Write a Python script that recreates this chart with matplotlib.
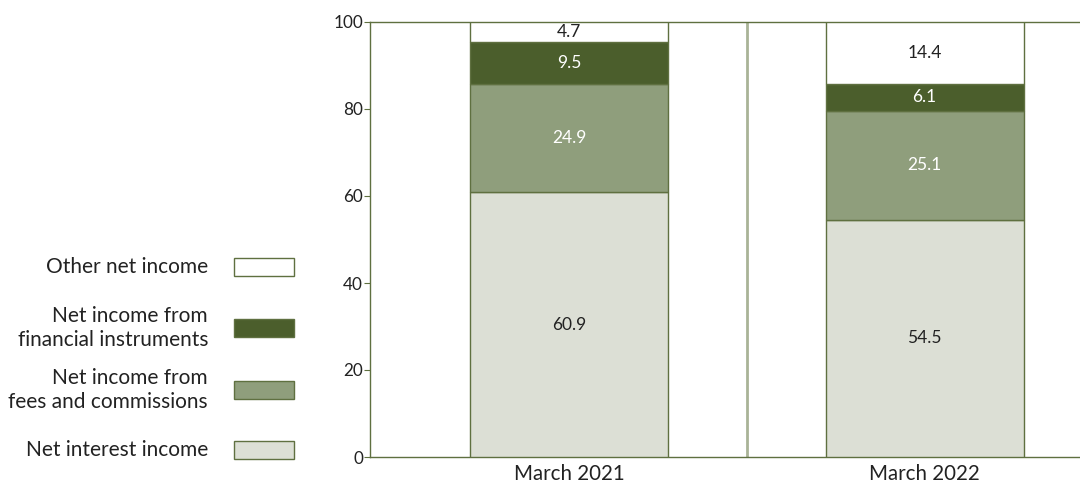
import matplotlib
matplotlib.use("Agg")
import matplotlib.pyplot as plt
from matplotlib.patches import Rectangle

plt.rcParams['font.family'] = ['Lato', 'DejaVu Sans']

periods = ["March 2021", "March 2022"]
series_names = ["Net interest income", "Net income from\nfees and commissions",
                "Net income from\nfinancial instruments", "Other net income"]
net_interest = [60.9, 54.5]
fees_commissions = [24.9, 25.1]
financial_instruments = [9.5, 6.1]
other_income = [4.7, 14.4]
y_ticks = [0, 20, 40, 60, 80, 100]

series = [net_interest, fees_commissions, financial_instruments, other_income]
fills = ["#dcdfd5", "#8f9e7c", "#4b5e2c", "#ffffff"]
text_colors = ["#222222", "#ffffff", "#ffffff", "#222222"]
edge = "#5f7040"

fig = plt.figure(figsize=(10.8, 4.88), dpi=100)
ax = fig.add_axes([370 / 1080, 1 - 457 / 488, 710 / 1080, 435 / 488])

x = list(range(len(periods)))
width = 0.557
bottoms = [0.0] * len(periods)
for vals, fc, tc in zip(series, fills, text_colors):
    ax.bar(x, vals, width=width, bottom=bottoms, color=fc, edgecolor=edge,
           linewidth=1.0, zorder=3)
    for xi, v, b in zip(x, vals, bottoms):
        ax.text(xi, b + v / 2, f"{v:.1f}", ha="center", va="center",
                color=tc, fontsize=12.5, zorder=4)
    bottoms = [b + v for b, v in zip(bottoms, vals)]

ax.set_xlim(-0.56, 1.437)
ax.set_ylim(0, 100)
ax.axvline(0.5, color="#a9b397", linewidth=2.0, zorder=1)

for side in ["left", "bottom", "top"]:
    ax.spines[side].set_color(edge)
    ax.spines[side].set_linewidth(1.0)
ax.spines["right"].set_visible(False)

ax.set_yticks(y_ticks)
ax.set_yticklabels([str(t) for t in y_ticks], fontsize=12.3, color="#222222")
ax.tick_params(axis="y", length=4, color=edge, pad=1)
ax.set_xticks(x)
ax.set_xticklabels(periods, fontsize=14.8, color="#222222")
ax.tick_params(axis="x", length=0, pad=5)

# Legend drawn manually at left, top entry first
legend_rows_y = [450, 390, 328, 267]
for name, fc, ry in zip(series_names, fills, legend_rows_y):
    yf = 1 - ry / 488
    fig.patches.append(Rectangle((234 / 1080, yf - 9 / 488), 60 / 1080, 18 / 488,
                                 transform=fig.transFigure, facecolor=fc,
                                 edgecolor=edge, linewidth=1.0))
    fig.text(208 / 1080, yf, name, ha="right", va="center", fontsize=15,
             color="#222222", linespacing=1.2)

fig.savefig("out.png", dpi=100)
